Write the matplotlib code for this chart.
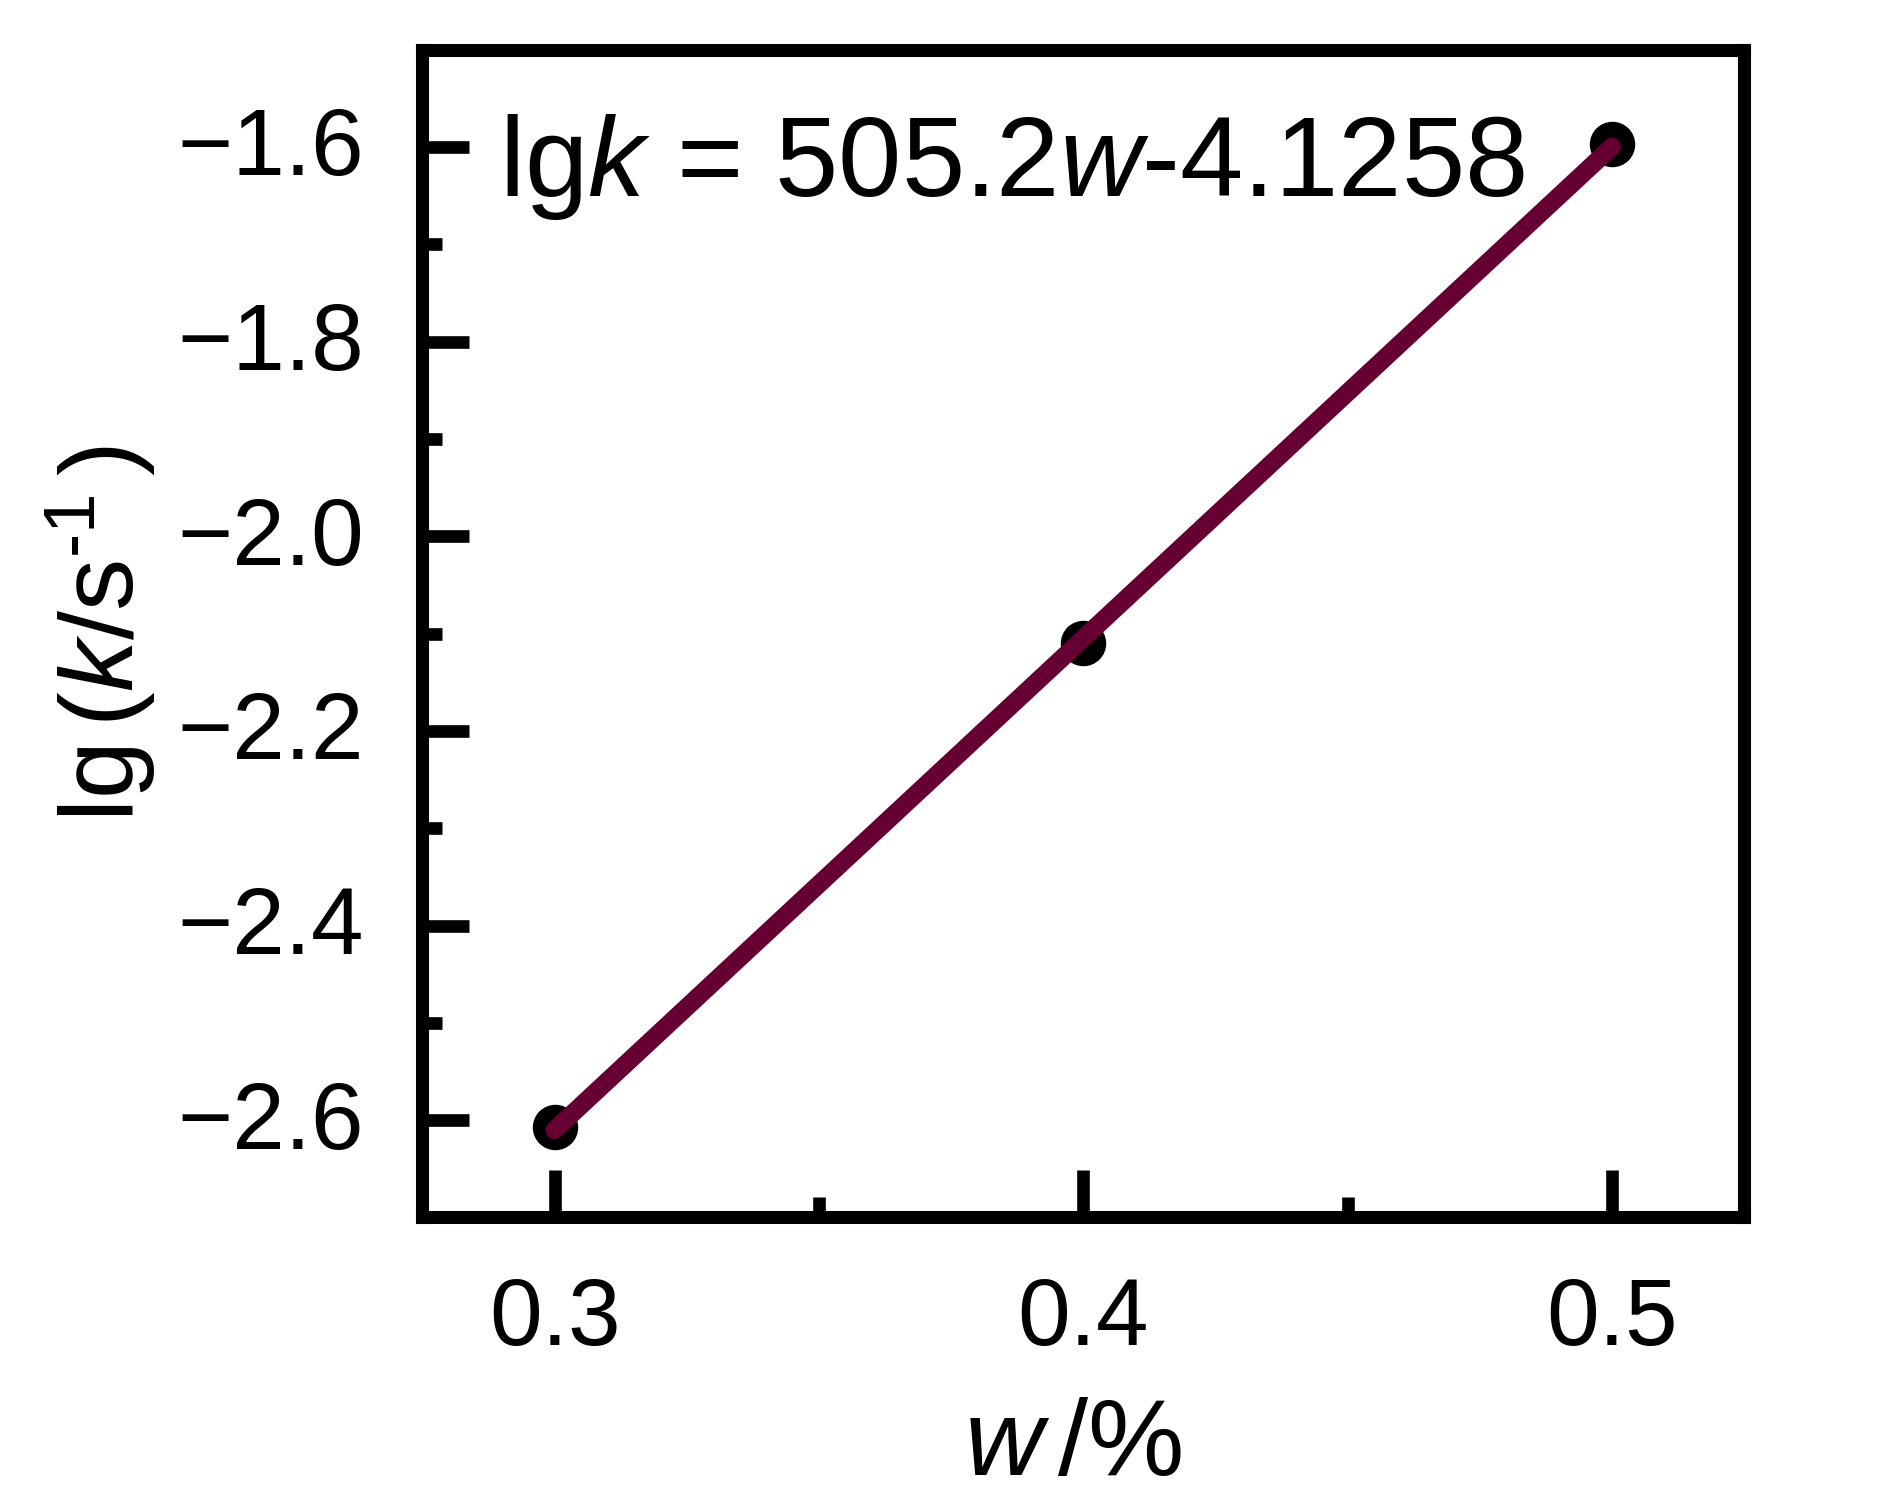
import numpy as np
import matplotlib
matplotlib.use("Agg")
import matplotlib.pyplot as plt
import matplotlib.transforms as mtransforms
from matplotlib.ticker import MultipleLocator

# data
w = [0.3, 0.4, 0.5]
lgk = [-2.607, -2.110, -1.597]

# fit quoted on the chart (w as fraction here)
fit_slope = 5.052
fit_intercept = -4.1258
eq_text = r"lg$\mathit{k}$ = 505.2$\mathit{w}$-4.1258"

x_ticks = [0.3, 0.4, 0.5]
y_ticks = [-2.6, -2.4, -2.2, -2.0, -1.8, -1.6]

plt.rcParams["font.family"] = ["Liberation Sans", "DejaVu Sans"]
plt.rcParams["mathtext.fontset"] = "custom"
plt.rcParams["mathtext.rm"] = "Liberation Sans"
plt.rcParams["mathtext.it"] = "Liberation Sans:italic"

fig = plt.figure(figsize=(18.9, 15.04), dpi=100)
ax = fig.add_axes([0.2235, 0.1905, 0.9228 - 0.2235, 0.967 - 0.1905])

ax.plot(w, lgk, "o", color="black", markersize=31.7, zorder=2)
xf = np.array([w[0], w[-1]])
ax.plot(xf, fit_slope * xf + fit_intercept, color="#660033", lw=13,
        solid_capstyle="round", zorder=3)

ax.set_xlim(0.275, 0.525)
ax.set_ylim(-2.7, -1.5)
ax.set_xticks(x_ticks)
ax.set_yticks(y_ticks)
ax.set_xticklabels(["0.3", "0.4", "0.5"])
ax.set_yticklabels(["\u22122.6", "\u22122.4", "\u22122.2", "\u22122.0", "\u22121.8", "\u22121.6"])
ax.xaxis.set_minor_locator(MultipleLocator(0.05))
ax.yaxis.set_minor_locator(MultipleLocator(0.1))

for s in ax.spines.values():
    s.set_linewidth(9.4)
ax.tick_params(which="both", direction="in", top=False, right=False, width=9.1)
ax.tick_params(which="major", length=34, labelsize=68)
ax.tick_params(which="minor", length=14.4)
ax.tick_params(axis="x", which="major", pad=42)
ax.tick_params(axis="y", which="major", pad=42)

# nudge y tick labels up a little
shift = mtransforms.ScaledTranslation(0, 6 / 100, fig.dpi_scale_trans)
for lab in ax.get_yticklabels():
    lab.set_transform(lab.get_transform() + shift)

ax.set_xlabel(r"$\mathit{w}$$\,$/%", fontsize=78, labelpad=16)
ax.xaxis.set_label_coords(0.4925, -0.154)
ax.set_ylabel(r"lg$\,$($\mathit{k}$/s$^{\text{-}1}$$\,$)", fontsize=75, labelpad=14)

ax.text(0.058, 0.8747, eq_text, transform=ax.transAxes, fontsize=82,
        va="baseline", ha="left")

fig.savefig("out.png", dpi=100)
